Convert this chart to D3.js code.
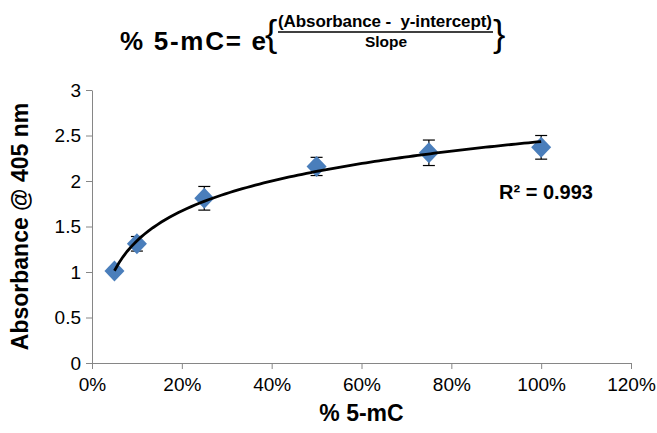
<!DOCTYPE html>
<meta charset="utf-8" />
<style>
    body { margin: 0; background: #fff; }
    text { font-family: "Liberation Sans", Arial, sans-serif; fill: #000; }
    .axis path, .axis line { stroke: #868686; }
    .axis text { font-size: 19px; }
    .title text { font-weight: bold; }
</style>

<svg width="657" height="433"></svg>

<script src="https://d3js.org/d3.v7.min.js"></script>
<script>
    // percent 5-mC (as fraction) and absorbance
    const methylFraction = [0.05, 0.10, 0.25, 0.50, 0.75, 1.00];
    const absorbance = [1.01, 1.31, 1.81, 2.16, 2.31, 2.37];
    const absorbanceErr = [0.03, 0.08, 0.13, 0.10, 0.14, 0.13];
    const xTicks = [0, 0.2, 0.4, 0.6, 0.8, 1.0, 1.2];
    const yTicks = [0, 0.5, 1, 1.5, 2, 2.5, 3];
    const r2Label = 'R² = 0.993';

    const svg = d3.select('svg');

    const plot = { left: 92, right: 631, top: 90, bottom: 363 };

    const x = d3.scaleLinear().domain([0, 1.2]).range([plot.left, plot.right]);
    const y = d3.scaleLinear().domain([0, 3]).range([plot.bottom, plot.top]);

    // axes
    svg.append('g')
        .attr('class', 'axis')
        .attr('transform', `translate(0,${plot.bottom})`)
        .call(d3.axisBottom(x).tickValues(xTicks).tickSize(6).tickSizeOuter(0).tickPadding(9)
            .tickFormat(d3.format('.0%')))
        .call(g => g.selectAll('text').attr('fill', '#000'));

    svg.append('g')
        .attr('class', 'axis')
        .attr('transform', `translate(${plot.left},0)`)
        .call(d3.axisLeft(y).tickValues(yTicks).tickSize(6).tickSizeOuter(0).tickPadding(5)
            .tickFormat(d => d))
        .call(g => g.selectAll('text').attr('fill', '#000'));

    // error bars
    const points = methylFraction.map((m, i) => ({ m, a: absorbance[i], e: absorbanceErr[i] }));
    const eb = svg.append('g').attr('stroke', '#000').attr('stroke-width', 1.2);
    points.forEach(p => {
        const cx = x(p.m);
        eb.append('line').attr('x1', cx).attr('x2', cx).attr('y1', y(p.a - p.e)).attr('y2', y(p.a + p.e));
        [p.a - p.e, p.a + p.e].forEach(v => {
            eb.append('line').attr('x1', cx - 6).attr('x2', cx + 6).attr('y1', y(v)).attr('y2', y(v));
        });
    });

    // diamond markers
    svg.append('g').selectAll('path')
        .data(points)
        .join('path')
        .attr('d', 'M0,-10.5L10,0L0,10.5L-10,0Z')
        .attr('transform', d => `translate(${x(d.m)},${y(d.a)})`)
        .attr('fill', '#4A7EBB');

    // logarithmic trendline: least squares of absorbance on ln(fraction)
    const lx = methylFraction.map(Math.log);
    const mx = d3.mean(lx);
    const my = d3.mean(absorbance);
    const slope = d3.sum(lx, (v, i) => (v - mx) * (absorbance[i] - my)) / d3.sum(lx, v => (v - mx) ** 2);
    const intercept = my - slope * mx;
    const curveX = d3.range(0, 101).map(i => 0.05 + (0.95 * i) / 100);

    svg.append('path')
        .datum(curveX)
        .attr('fill', 'none')
        .attr('stroke', '#000')
        .attr('stroke-width', 2.8)
        .attr('d', d3.line().x(d => x(d)).y(d => y(slope * Math.log(d) + intercept)));

    svg.append('text')
        .attr('x', 499)
        .attr('y', 199)
        .attr('font-size', 20)
        .attr('font-weight', 'bold')
        .text(r2Label);

    // axis titles
    svg.append('text')
        .attr('x', (plot.left + plot.right) / 2)
        .attr('y', 421)
        .attr('text-anchor', 'middle')
        .attr('font-size', 23)
        .attr('font-weight', 'bold')
        .text('% 5-mC');

    svg.append('text')
        .attr('transform', `translate(28,${(plot.top + plot.bottom) / 2}) rotate(-90)`)
        .attr('text-anchor', 'middle')
        .attr('font-size', 23)
        .attr('font-weight', 'bold')
        .text('Absorbance @ 405 nm');

    // title formula
    const t = svg.append('g').attr('class', 'title');
    t.append('text')
        .attr('x', 120).attr('y', 50)
        .attr('font-size', 26)
        .attr('textLength', 146)
        .text('% 5-mC= e');
    t.append('text')
        .attr('x', 265).attr('y', 46)
        .attr('font-size', 37)
        .style('font-weight', 'normal')
        .text('{');
    t.append('text')
        .attr('x', 278).attr('y', 27)
        .attr('font-size', 17)
        .attr('textLength', 214)
        .style('white-space', 'pre')
        .text('(Absorbance -  y-intercept)');
    t.append('line')
        .attr('x1', 278).attr('x2', 493).attr('y1', 32).attr('y2', 32)
        .attr('stroke', '#000').attr('stroke-width', 1.5);
    t.append('text')
        .attr('x', 386).attr('y', 47)
        .attr('text-anchor', 'middle')
        .attr('font-size', 15.5)
        .text('Slope');
    t.append('text')
        .attr('x', 493).attr('y', 46)
        .attr('font-size', 37)
        .style('font-weight', 'normal')
        .text('}');
</script>
